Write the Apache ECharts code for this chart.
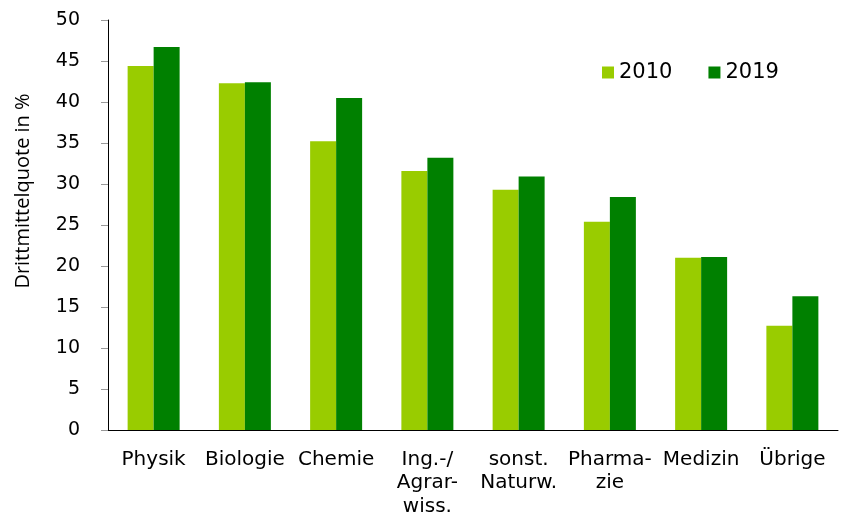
<!DOCTYPE html>
<html><head><meta charset="utf-8">
<script src="https://cdn.jsdelivr.net/npm/echarts@6/dist/echarts.min.js"></script>
<style>html,body{margin:0;padding:0;background:#fff}#c{width:842px;height:519px}</style>
</head><body><div id="c"></div>
<script>
const categories = ["Physik","Biologie","Chemie","Ing.-/\nAgrar-\nwiss.","sonst.\nNaturw.","Pharma-\nzie","Medizin","Übrige"];
const values2010 = [44.4, 42.3, 35.2, 31.6, 29.3, 25.4, 21.0, 12.7];
const values2019 = [46.7, 42.4, 40.5, 33.2, 30.9, 28.4, 21.1, 16.3];
const seriesNames = ["2010","2019"];
const yTitle = "Drittmittelquote in %";
const yTicks = {min:0, max:50, interval:5};

const chart = echarts.init(document.getElementById('c'), null, {renderer:'canvas'});
chart.setOption({
  animation:false,
  backgroundColor:'#fff',
  grid:{left:108, right:4, top:20, bottom:89, containLabel:false},
  legend:{
    data:seriesNames, left:597, top:57, itemWidth:12, itemHeight:12, itemGap:36,
    icon:'rect',
    textStyle:{fontFamily:'DejaVu Sans', fontSize:21, color:'#000'}
  },
  graphic:[{
    type:'text', x:23, y:191, rotation:Math.PI/2,
    style:{text:yTitle, fontFamily:'Open Sans', fontSize:20, fill:'#000', align:'center', verticalAlign:'middle'}
  }],
  xAxis:{
    type:'category', data:categories,
    axisLine:{lineStyle:{color:'#000', width:1}},
    axisTick:{show:false},
    axisLabel:{interval:0, fontFamily:'DejaVu Sans', fontSize:20, color:'#000', lineHeight:23.5, margin:18}
  },
  yAxis:{
    type:'value', min:yTicks.min, max:yTicks.max, interval:yTicks.interval,
    axisLine:{show:true, lineStyle:{color:'#000', width:1}},
    axisTick:{show:true, length:7, lineStyle:{color:'#999'}},
    splitLine:{show:false},
    axisLabel:{fontFamily:'DejaVu Sans', fontSize:19, color:'#000', margin:28}
  },
  series:[
    {name:seriesNames[0], type:'bar', data:values2010, barWidth:26, barGap:'0%', itemStyle:{color:'#99CC00'}},
    {name:seriesNames[1], type:'bar', data:values2019, barWidth:26, barGap:'0%', itemStyle:{color:'#008000'}}
  ]
});
</script></body></html>
